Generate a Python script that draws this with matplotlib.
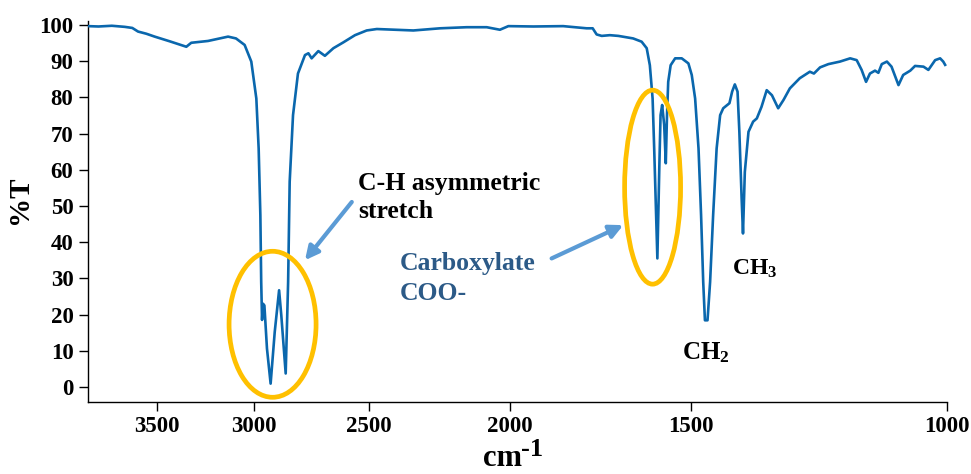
import matplotlib

matplotlib.use("Agg")
import matplotlib.pyplot as plt
from matplotlib import transforms
from matplotlib.patches import Ellipse
from matplotlib.ticker import FixedLocator, NullLocator

# IR spectrum: wavenumber (cm-1) and transmittance (%T)
wavenumber = [
    3905, 3840, 3760, 3684, 3640, 3607, 3560, 3513, 3430, 3341, 3315, 3228, 3127, 3088,
    3046, 3014, 2990, 2979, 2971, 2967, 2963, 2959, 2952, 2940, 2923, 2904, 2884, 2874,
    2854, 2843, 2836, 2821, 2799, 2768, 2753, 2739, 2710, 2682, 2646, 2605, 2557, 2510,
    2470, 2331, 2234, 2142, 2075, 2032, 2005, 1927, 1838, 1771, 1754, 1743, 1729, 1707,
    1684, 1645, 1623, 1610, 1602, 1595, 1591, 1586, 1583, 1578, 1575, 1571, 1566, 1562,
    1559, 1556, 1550, 1539, 1523, 1507, 1499, 1491, 1483, 1477, 1472, 1468, 1462, 1456,
    1449, 1441, 1433, 1426, 1412, 1406, 1400, 1394, 1390, 1385, 1382, 1378, 1370, 1360,
    1352, 1342, 1331, 1320, 1307, 1296, 1283, 1273, 1263, 1243, 1235, 1223, 1207, 1185,
    1166, 1154, 1145, 1137, 1130, 1121, 1115, 1109, 1100, 1092, 1080, 1072, 1060, 1052,
    1038, 1030, 1019, 1011, 1006, 1003,
]
transmittance = [
    99.7, 99.6, 99.8, 99.5, 99.2, 98.2, 97.6, 96.8, 95.5, 94.0, 95.1, 95.6, 96.8, 96.3,
    94.5, 89.9, 79.7, 65.9, 47.5, 29.0, 18.5, 23.0, 22.5, 10.6, 0.9, 15.2, 26.7, 19.8,
    3.7, 29.0, 56.7, 75.1, 86.6, 91.7, 92.2, 90.8, 92.8, 91.5, 93.6, 95.2, 97.2, 98.5,
    98.9, 98.5, 99.1, 99.4, 99.4, 98.7, 99.7, 99.6, 99.7, 99.1, 99.1, 97.4, 97.0, 97.2,
    97.0, 96.3, 95.4, 93.6, 88.9, 79.7, 65.9, 47.5, 35.5, 61.3, 75.1, 77.9, 72.4, 61.8,
    75.1, 84.3, 88.9, 90.8, 90.8, 89.4, 86.2, 79.7, 65.9, 47.5, 29.0, 18.4, 18.4, 29.0,
    47.5, 65.9, 75.1, 77.0, 78.4, 81.6, 83.6, 81.6, 70.5, 52.1, 42.4, 59.4, 70.5, 73.3,
    74.2, 77.4, 82.0, 80.6, 77.0, 79.3, 82.5, 83.9, 85.3, 87.1, 86.6, 88.3, 89.2, 89.9,
    90.8, 90.3, 87.6, 84.3, 86.6, 87.4, 86.8, 89.2, 89.9, 88.5, 83.4, 86.2, 87.4, 88.7,
    88.5, 87.6, 90.3, 90.8, 89.9, 89.0,
]

x_ticks = [3500, 3000, 2500, 2000, 1500, 1000]
y_ticks = [0, 10, 20, 30, 40, 50, 60, 70, 80, 90, 100]

LINE = "#0A67AD"
RING = "#FFC000"
ARROW = "#5B9BD5"
NOTE = "#2C5A87"

plt.rcParams.update({
    "font.family": ["Liberation Serif", "DejaVu Serif"],
    "font.weight": "bold",
    "mathtext.fontset": "custom",
    "mathtext.rm": "Liberation Serif:bold",
    "mathtext.bf": "Liberation Serif:bold",
    "mathtext.it": "Liberation Serif:bold",
})

fig = plt.figure(figsize=(9.71, 4.74), dpi=100)
ax = fig.add_axes([0.0906, 0.1525, 0.8847, 0.8023])

ax.plot(wavenumber, transmittance, color=LINE, lw=1.9, solid_joinstyle="round", zorder=3)

ax.set_xscale("log")
ax.set_xlim(3905, 1000)
ax.set_ylim(-4.1, 101)
ax.xaxis.set_major_locator(FixedLocator(x_ticks))
ax.xaxis.set_minor_locator(NullLocator())
ax.set_xticklabels([str(t) for t in x_ticks])
ax.set_yticks(y_ticks)

for s in ("top", "right"):
    ax.spines[s].set_visible(False)
for s in ("left", "bottom"):
    ax.spines[s].set_linewidth(1.0)
ax.tick_params(axis="both", direction="out", length=6.5, width=1.0, labelsize=16.5)
ax.tick_params(axis="y", pad=4)
ax.tick_params(axis="x", pad=4)
for lab in ax.get_xticklabels() + ax.get_yticklabels():
    lab.set_fontweight("bold")

# x label: "cm" with a raised, near full-size "-1"
fig.text(522 / 971, 1 - 466 / 474, "cm", fontsize=22, fontweight="bold",
         ha="right", va="baseline")
fig.text(521 / 971, 1 - 456 / 474, "-1", fontsize=19, fontweight="bold",
         ha="left", va="baseline")

ax.set_ylabel("%T", fontsize=21, fontweight="bold")
ax.yaxis.set_label_coords(-0.064, 0.53)


def ring(x, y, w_px, h_px):
    # ellipse sized in pixels, centred on a data point
    tr = fig.dpi_scale_trans + transforms.ScaledTranslation(x, y, ax.transData)
    e = Ellipse((0, 0), w_px / fig.dpi, h_px / fig.dpi, transform=tr,
                fill=False, edgecolor=RING, lw=3.4, zorder=4, clip_on=False)
    ax.add_artist(e)


ring(2914, 17.3, 87, 146)
ring(1595, 55.2, 56, 194)

arrow = dict(arrowstyle="-|>", color=ARROW, lw=3.0, mutation_scale=20,
             shrinkA=0, shrinkB=0)
ax.annotate("", xy=(2768, 35.0), xytext=(2570, 51.1), arrowprops=arrow, zorder=5)
ax.annotate("", xy=(1671, 44.7), xytext=(1872, 35.5), arrowprops=arrow, zorder=5)

ax.text(2545, 59.5, "C-H asymmetric\nstretch", fontsize=18.5, fontweight="bold",
        color="black", ha="left", va="top", linespacing=1.3)
ax.text(2383, 37.2, "Carboxylate\nCOO-", fontsize=18.5, fontweight="bold",
        color=NOTE, ha="left", va="top", linespacing=1.35)
ax.text(1466, 7.6, r"CH$_2$", fontsize=18, fontweight="bold", ha="center", va="baseline")
ax.text(1356, 30.9, r"CH$_3$", fontsize=17, fontweight="bold", ha="center", va="baseline")

fig.savefig("out.png", dpi=100)
